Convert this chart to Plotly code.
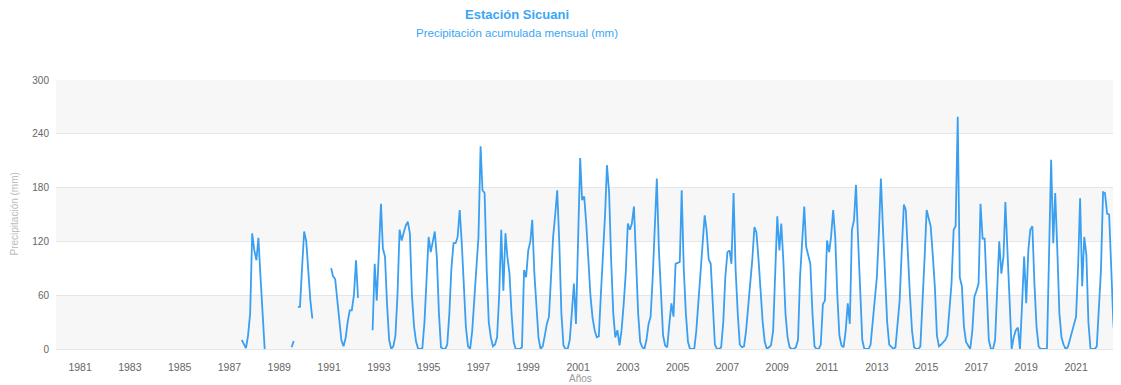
import pandas as pd
import plotly.graph_objects as go

# Monthly accumulated precipitation (mm), Jan..Dec, None = missing
y1987 = [None, None, None, None, None, None, 10, 6, 1, 15, 40, 129]
y1988 = [110, 99, 124, 80, 35, 0, None, None, None, None, None, None]
y1989 = [None, None, None, None, None, None, 2, 9, None, 47, 47, 90]
y1990 = [131, 120, 85, 55, 34, None, None, None, None, None, None, None]
y1991 = [None, 90, 81, 78, 55, 28, 10, 3, 12, 30, 43, 43]
y1992 = [60, 99, 57, None, None, None, None, None, None, 21, 95, 54]
y1993 = [105, 162, 112, 103, 50, 10, 0, 3, 15, 60, 133, 121]
y1994 = [130, 138, 142, 129, 60, 25, 8, 0, 0, 1, 30, 85]
y1995 = [125, 108, 118, 131, 103, 40, 2, 0, 0, 5, 40, 90]
y1996 = [118, 118, 125, 155, 118, 60, 24, 3, 0, 20, 51, 90]
y1997 = [125, 226, 177, 174, 90, 30, 13, 3, 5, 13, 60, 133]
y1998 = [65, 129, 103, 84, 40, 8, 0, 0, 0, 2, 88, 80]
y1999 = [110, 120, 144, 84, 45, 12, 0, 3, 15, 28, 36, 80]
y2000 = [125, 150, 177, 118, 40, 4, 0, 0, 10, 40, 73, 28]
y2001 = [120, 213, 166, 170, 140, 100, 60, 35, 21, 13, 14, 60]
y2002 = [103, 150, 205, 175, 100, 40, 13, 21, 4, 21, 50, 84]
y2003 = [140, 133, 140, 159, 100, 40, 8, 2, 0, 10, 28, 36]
y2004 = [80, 130, 190, 110, 60, 15, 4, 2, 28, 51, 36, 95]
y2005 = [96, 97, 177, 88, 40, 8, 0, 0, 0, 20, 55, 80]
y2006 = [120, 149, 133, 100, 95, 40, 5, 0, 0, 2, 30, 80]
y2007 = [108, 110, 95, 174, 88, 40, 5, 2, 3, 20, 45, 73]
y2008 = [100, 136, 130, 100, 60, 30, 8, 0, 2, 4, 20, 84]
y2009 = [148, 110, 140, 97, 40, 13, 2, 0, 0, 2, 10, 80]
y2010 = [125, 159, 114, 105, 95, 40, 3, 0, 0, 5, 50, 54]
y2011 = [121, 108, 125, 155, 125, 60, 15, 4, 2, 20, 51, 28]
y2012 = [133, 144, 183, 121, 70, 10, 0, 0, 0, 5, 30, 51]
y2013 = [80, 133, 190, 133, 80, 30, 5, 3, 0, 2, 25, 54]
y2014 = [110, 161, 155, 103, 60, 20, 2, 0, 0, 3, 47, 100]
y2015 = [155, 145, 137, 105, 70, 15, 3, 5, 8, 10, 15, 40]
y2016 = [73, 133, 137, 259, 80, 70, 25, 8, 4, 0, 20, 58]
y2017 = [65, 73, 162, 123, 123, 60, 10, 0, 0, 10, 60, 120]
y2018 = [84, 103, 164, 114, 50, 0, 13, 21, 24, 0, 50, 103]
y2019 = [51, 110, 133, 137, 73, 25, 3, 0, 0, 0, 0, 103]
y2020 = [211, 118, 174, 110, 40, 13, 5, 0, 2, 10, 20, 28]
y2021 = [36, 95, 168, 70, 125, 105, 30, 0, 0, 0, 3, 50]
y2022 = [88, 175, 174, 151, 150, 90, 30, 0, 0, 3, 5, 10]

years = list(range(1987, 2023))
yearly = [y1987, y1988, y1989, y1990, y1991, y1992, y1993, y1994, y1995,
          y1996, y1997, y1998, y1999, y2000, y2001, y2002, y2003, y2004,
          y2005, y2006, y2007, y2008, y2009, y2010, y2011, y2012, y2013,
          y2014, y2015, y2016, y2017, y2018, y2019, y2020, y2021, y2022]

y_ticks = [0, 60, 120, 180, 240, 300]

dates, values = [], []
for yr, vals in zip(years, yearly):
    for m, v in enumerate(vals):
        dates.append(pd.Timestamp(year=yr, month=m + 1, day=1))
        values.append(v)

line_color = "#3a9ff0"
title_color = "#3aa6f5"
font_family = "Liberation Sans, Arial, sans-serif"

fig = go.Figure()
fig.add_trace(go.Scatter(
    x=dates, y=values, mode="lines",
    line=dict(color=line_color, width=1.8),
    connectgaps=False, showlegend=False,
))

shapes = []
for lo, hi in [(0, 60), (120, 180), (240, 300)]:
    shapes.append(dict(type="rect", xref="paper", yref="y", x0=0, x1=1,
                       y0=lo, y1=hi, fillcolor="#f7f7f7", line=dict(width=0),
                       layer="below"))

# page body adds an 8px offset; the figure is sized to fill the window
fig.update_layout(
    width=1113, height=377,
    margin=dict(l=48, r=0, t=72, b=36),
    paper_bgcolor="white", plot_bgcolor="white",
    font=dict(family=font_family, size=10, color="#666666"),
    shapes=shapes,
    xaxis=dict(
        type="date",
        range=["1980-01-14", "2022-10-22"],
        tick0="1981-01-01", dtick="M24", tickformat="%Y",
        showgrid=False, zeroline=False,
        showline=True, linecolor="#e6e6e6",
        ticks="", ticklabelstandoff=8,
        tickfont=dict(size=10.5, color="#666666"),
    ),
    yaxis=dict(
        range=[0, 300], tickvals=y_ticks,
        showgrid=True, gridcolor="#e6e6e6", gridwidth=1,
        zeroline=False, showline=False, ticks="",
        ticklabelstandoff=6,
        tickfont=dict(size=10, color="#666666"),
    ),
    annotations=[
        dict(text="<b>Estación Sicuani</b>", xref="paper", yref="paper",
             x=(517 - 56) / 1065, y=1 + (80.5 - 15) / 268.5,
             xanchor="center", yanchor="middle", showarrow=False,
             font=dict(size=13, color=title_color, family=font_family)),
        dict(text="Precipitación acumulada mensual (mm)", xref="paper", yref="paper",
             x=(517 - 56) / 1065, y=1 + (80.5 - 34) / 268.5,
             xanchor="center", yanchor="middle", showarrow=False,
             font=dict(size=11.5, color=title_color, family=font_family)),
        dict(text="Precipitación (mm)", xref="paper", yref="paper",
             x=(14 - 56) / 1065, y=0.5, textangle=-90,
             xanchor="center", yanchor="middle", showarrow=False,
             font=dict(size=10, color="#bbbbbb", family=font_family)),
        dict(text="Años", xref="paper", yref="paper",
             x=(580 - 56) / 1065, y=-(378 - 348.5) / 268.5,
             xanchor="center", yanchor="middle", showarrow=False,
             font=dict(size=10, color="#999999", family=font_family)),
    ],
)

fig.write_html("out.html")
